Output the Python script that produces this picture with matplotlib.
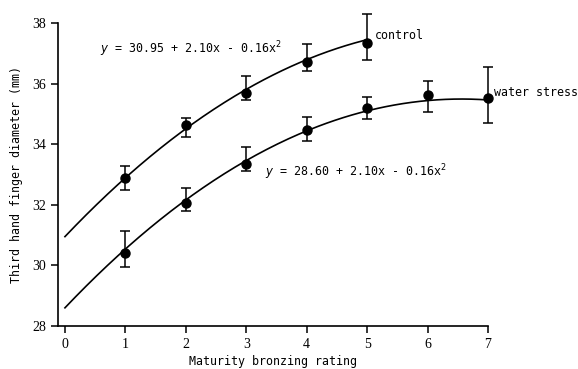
import numpy as np
import matplotlib
matplotlib.use("Agg")
import matplotlib.pyplot as plt

# measured points (mean, lower and upper end of error bar)
control_x = [1, 2, 3, 4, 5]
control_y = [32.88, 34.63, 35.69, 36.71, 37.34]
control_lo = [32.49, 34.24, 35.46, 36.42, 36.78]
control_hi = [33.28, 34.86, 36.25, 37.31, 38.30]

stress_x = [1, 2, 3, 4, 5, 6, 7]
stress_y = [30.41, 32.06, 33.35, 34.47, 35.19, 35.62, 35.52]
stress_lo = [29.95, 31.80, 33.12, 34.11, 34.83, 35.06, 34.70]
stress_hi = [31.14, 32.55, 33.91, 34.90, 35.56, 36.09, 36.56]

# regression coefficients printed on the chart (a + b x + c x^2)
control_fit = [30.95, 2.10, -0.16]
stress_fit = [28.60, 2.10, -0.16]
control_range = [0, 5]
stress_range = [0, 7]

x_ticks = [0, 1, 2, 3, 4, 5, 6, 7]
y_ticks = [28, 30, 32, 34, 36, 38]

mono = "DejaVu Sans Mono"
serif = "Liberation Serif"
fs = 8.4

fig = plt.figure(figsize=(5.78, 3.69), dpi=100)
ax = fig.add_axes([58 / 578, 43 / 369, 430 / 578, 303 / 369])


def fit_curve(coefs, xr):
    xs = np.linspace(xr[0], xr[1], 200)
    return xs, coefs[0] + coefs[1] * xs + coefs[2] * xs ** 2


for coefs, xr in [(control_fit, control_range), (stress_fit, stress_range)]:
    xs, ys = fit_curve(coefs, xr)
    ax.plot(xs, ys, color="black", lw=1.2)

for xv, yv, lo, hi in [(control_x, control_y, control_lo, control_hi),
                       (stress_x, stress_y, stress_lo, stress_hi)]:
    yerr = [np.array(yv) - np.array(lo), np.array(hi) - np.array(yv)]
    eb = ax.errorbar(xv, yv, yerr=yerr, fmt="o", color="black", ms=6.5,
                     capsize=3.5, elinewidth=1.1, capthick=1.1)
    for art in eb.lines[1] + eb.lines[2] + (eb.lines[0],):
        art.set_clip_on(False)

ax.set_xlim(-0.115, 7)
ax.set_ylim(28, 38)
ax.set_xticks(x_ticks)
ax.set_yticks(y_ticks)
for s in ["top", "right"]:
    ax.spines[s].set_visible(False)
for s in ["left", "bottom"]:
    ax.spines[s].set_linewidth(1.2)
ax.tick_params(direction="out", length=5, width=1.1, labelsize=10)
for lab in ax.get_xticklabels() + ax.get_yticklabels():
    lab.set_fontfamily(serif)

ax.set_xlabel("Maturity bronzing rating", fontfamily=mono, fontsize=fs,
              labelpad=3)
ax.set_ylabel("Third hand finger diameter (mm)", fontfamily=mono,
              fontsize=fs, labelpad=7)

ax.text(5.13, 37.6, "control", fontfamily=mono, fontsize=fs, va="center")
ax.text(7.1, 35.69, "water stress", fontfamily=mono, fontsize=fs,
        va="center")
ax.text(0.58, 37.15, r"$\it{y}$ = 30.95 + 2.10x - 0.16x$^2$", fontfamily=mono,
        fontsize=fs, va="center")
ax.text(3.31, 33.08, r"$\it{y}$ = 28.60 + 2.10x - 0.16x$^2$", fontfamily=mono,
        fontsize=fs, va="center")

fig.savefig("out.png", dpi=100)
